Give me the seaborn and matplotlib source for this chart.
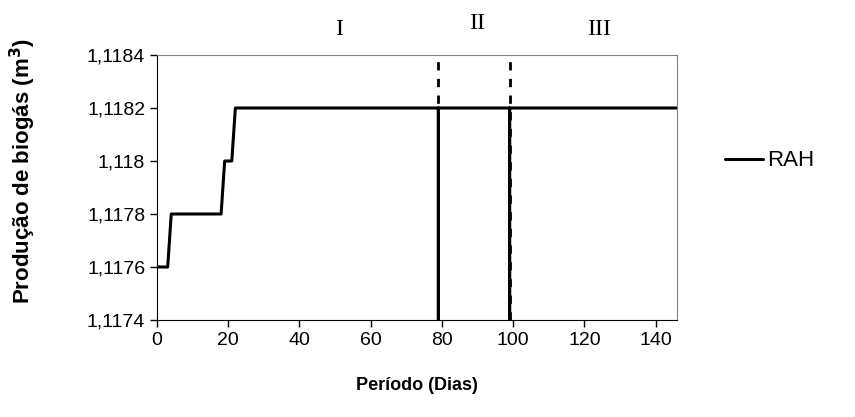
import seaborn as sns
import pandas as pd
from matplotlib import pyplot as plt

# data
dias = [0, 3, 4, 18, 19, 21, 22, 79, 79, 79, 99, 99, 99, 146]
biogas = [1.1176, 1.1176, 1.1178, 1.1178, 1.118, 1.118, 1.1182, 1.1182, 0, 1.1182,
          1.1182, 0, 1.1182, 1.1182]
periodos = [79, 99]
fases = ['I', 'II', 'III']
fases_x = [51, 90, 124]
yticks = [1.1174, 1.1176, 1.1178, 1.118, 1.1182, 1.1184]
ylabels = ['1,1174', '1,1176', '1,1178', '1,118', '1,1182', '1,1184']
xticks = [0, 20, 40, 60, 80, 100, 120, 140]

df = pd.DataFrame({'dia': dias, 'biogas': biogas})

sns.set_style('ticks')
plt.rcParams['font.family'] = ['Liberation Sans', 'DejaVu Sans']
plt.rcParams['text.color'] = 'black'
plt.rcParams['axes.labelcolor'] = 'black'

fig = plt.figure(figsize=(8.55, 4.17), dpi=100)
ax = fig.add_axes([157/855, 97/417, 520/855, 265/417])

sns.lineplot(data=df, x='dia', y='biogas', color='black', linewidth=2.2,
             sort=False, estimator=None, ax=ax, label='RAH')
for p in periodos:
    ax.axvline(p, color='black', linestyle=(0, (3, 3)), linewidth=2)

ax.set_xlim(0, 146)
ax.set_ylim(1.1174, 1.1184)
ax.set_xticks(xticks)
ax.set_yticks(yticks)
ax.set_yticklabels(ylabels)
ax.tick_params(labelsize=14, length=5, width=1, colors='black')

for s in ['top', 'right']:
    ax.spines[s].set_color('#808080')
for s in ['left', 'bottom']:
    ax.spines[s].set_color('black')

# period labels above the plot
tr = ax.get_xaxis_transform()
for t, x, y in zip(fases, fases_x, [1.095, 1.118, 1.095]):
    ax.text(x, y, t, ha='center', va='center', fontsize=17, transform=tr,
            family=['Liberation Serif', 'DejaVu Serif'], clip_on=False)

ax.set_xlabel('Período (Dias)', fontsize=13, fontweight='bold', labelpad=20)
ax.set_ylabel('Produção de biogás (m$^\\mathbf{3}$)', fontsize=16, fontweight='bold')
ax.yaxis.set_label_coords(-0.228, 0.562)

ax.legend(loc='center left', bbox_to_anchor=(1.092, 0.6), frameon=False,
          fontsize=16, handlelength=1.7, handletextpad=0.2,
          borderpad=0, borderaxespad=0)

fig.savefig('out.png', dpi=100)
